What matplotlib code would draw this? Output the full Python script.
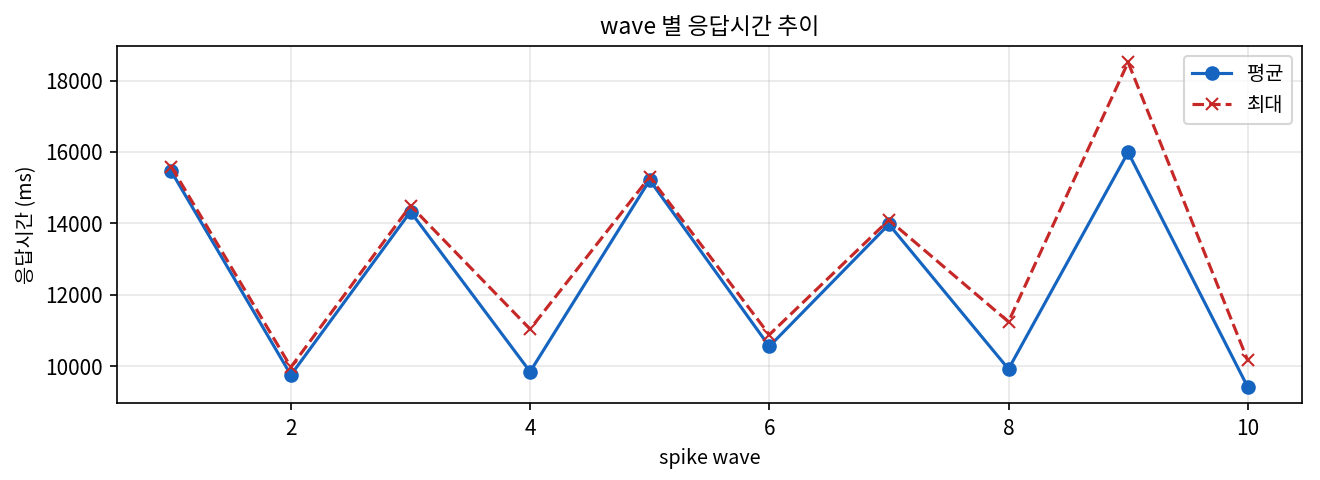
import matplotlib
matplotlib.use("Agg")
import matplotlib.pyplot as plt

plt.rcParams['font.family'] = ['Noto Sans CJK KR', 'DejaVu Sans']
plt.rcParams['axes.unicode_minus'] = False

# spike wave 번호별 응답시간 (ms)
waves = [1, 2, 3, 4, 5, 6, 7, 8, 9, 10]
avg_ms = [15455, 9748, 14326, 9841, 15212, 10550, 13972, 9916, 15990, 9413]
max_ms = [15585, 9970, 14494, 11035, 15300, 10876, 14093, 11240, 18513, 10158]

fig, ax = plt.subplots(figsize=(8.8, 3.2), dpi=150)
ax.plot(waves, avg_ms, marker='o', color='#1565C0', label='평균')
ax.plot(waves, max_ms, marker='x', linestyle='--', color='#C62828', label='최대')

ax.set_title('wave 별 응답시간 추이', fontsize=11)
ax.set_xlabel('spike wave', fontsize=9.5)
ax.set_ylabel('응답시간 (ms)', fontsize=9.5)
ax.grid(True, alpha=0.3)
ax.legend(loc='upper right', fontsize=9.5)

fig.subplots_adjust(left=0.089, right=0.986, top=0.904, bottom=0.160)
fig.savefig('out.png', dpi=150)
